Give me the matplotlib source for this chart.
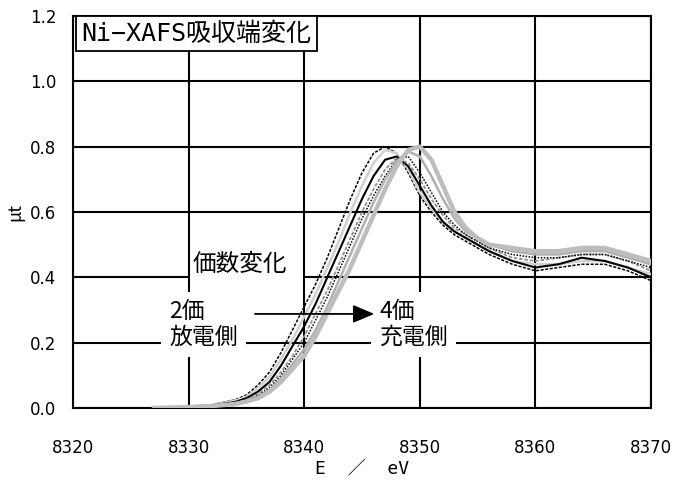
import matplotlib
matplotlib.use('Agg')
import matplotlib.pyplot as plt

plt.rcParams['font.family'] = ['Noto Sans CJK JP', 'DejaVu Sans']

energy = [8327, 8330, 8332, 8334, 8335, 8336, 8337, 8338, 8339, 8340, 8341,
          8342, 8343, 8344, 8345, 8346, 8347, 8348, 8349, 8350, 8351, 8352,
          8353, 8354, 8355, 8356, 8358, 8360, 8362, 8364, 8366, 8368, 8370]

# spectra, from the discharged (Ni2+) side to the charged (Ni4+) side
mu_1 = [0.0, 0.005, 0.01, 0.025, 0.04, 0.07, 0.11, 0.17, 0.24, 0.31, 0.38,
        0.46, 0.55, 0.64, 0.72, 0.78, 0.80, 0.78, 0.72, 0.65, 0.60, 0.56,
        0.53, 0.51, 0.49, 0.47, 0.44, 0.42, 0.43, 0.44, 0.44, 0.42, 0.39]
mu_2 = [0.0, 0.004, 0.009, 0.022, 0.035, 0.06, 0.095, 0.15, 0.21, 0.28, 0.35,
        0.43, 0.51, 0.60, 0.68, 0.75, 0.79, 0.78, 0.73, 0.66, 0.61, 0.57,
        0.54, 0.52, 0.50, 0.48, 0.45, 0.44, 0.44, 0.45, 0.45, 0.43, 0.41]
mu_3 = [0.0, 0.004, 0.008, 0.018, 0.03, 0.05, 0.08, 0.13, 0.19, 0.25, 0.32,
        0.40, 0.48, 0.56, 0.64, 0.71, 0.76, 0.77, 0.74, 0.68, 0.62, 0.57,
        0.54, 0.52, 0.50, 0.48, 0.45, 0.43, 0.44, 0.46, 0.45, 0.43, 0.40]
mu_4 = [0.0, 0.003, 0.007, 0.015, 0.025, 0.042, 0.07, 0.11, 0.16, 0.22, 0.29,
        0.36, 0.44, 0.52, 0.60, 0.67, 0.73, 0.765, 0.75, 0.70, 0.64, 0.59,
        0.55, 0.53, 0.51, 0.49, 0.46, 0.45, 0.46, 0.47, 0.47, 0.45, 0.42]
mu_5 = [0.0, 0.003, 0.007, 0.014, 0.022, 0.038, 0.062, 0.10, 0.15, 0.20, 0.27,
        0.34, 0.42, 0.50, 0.58, 0.65, 0.71, 0.76, 0.77, 0.72, 0.66, 0.60,
        0.56, 0.53, 0.51, 0.49, 0.47, 0.46, 0.46, 0.47, 0.47, 0.45, 0.43]
mu_6 = [0.0, 0.003, 0.006, 0.013, 0.02, 0.034, 0.056, 0.09, 0.135, 0.18, 0.24,
        0.31, 0.39, 0.47, 0.55, 0.63, 0.70, 0.755, 0.785, 0.77, 0.71, 0.64,
        0.58, 0.54, 0.52, 0.50, 0.48, 0.47, 0.47, 0.48, 0.48, 0.46, 0.44]
mu_7 = [0.0, 0.003, 0.006, 0.012, 0.02, 0.03, 0.05, 0.08, 0.12, 0.16, 0.22,
        0.29, 0.36, 0.43, 0.51, 0.59, 0.67, 0.74, 0.79, 0.80, 0.76, 0.68,
        0.60, 0.55, 0.52, 0.50, 0.49, 0.48, 0.48, 0.49, 0.49, 0.47, 0.45]

spectra = [mu_1, mu_2, mu_3, mu_4, mu_5, mu_6, mu_7]
styles = [
    dict(color='black', lw=1.1, ls=(0, (2, 1))),
    dict(color='#d0d0d0', lw=1.8, ls='-'),
    dict(color='black', lw=1.5, ls='-'),
    dict(color='#909090', lw=1.3, ls=(0, (2, 1))),
    dict(color='black', lw=1.1, ls=(0, (1, 1))),
    dict(color='#b0b0b0', lw=1.8, ls='-'),
    dict(color='#bdbdbd', lw=3.2, ls='-'),
]

mono = ['DejaVu Sans Mono', 'Noto Sans CJK JP']

fig = plt.figure(figsize=(6.86, 4.84), dpi=100)
ax = fig.add_axes([0.1064, 0.157, 0.8426, 0.81])

for mu, st in zip(spectra, styles):
    ax.plot(energy, mu, zorder=3, **st)

ax.set_xlim(8320, 8370)
ax.set_ylim(0, 1.2)
ax.set_xticks([8320, 8330, 8340, 8350, 8360, 8370])
ax.set_yticks([0.0, 0.2, 0.4, 0.6, 0.8, 1.0, 1.2])
ax.set_yticklabels(['0.0', '0.2', '0.4', '0.6', '0.8', '1.0', '1.2'])
ax.grid(True, color='black', lw=1.5)
ax.set_axisbelow(True)
for s in ax.spines.values():
    s.set_color('black')
    s.set_linewidth(1.5)
ax.tick_params(length=0, labelsize=12)
ax.tick_params(axis='x', pad=22)
ax.tick_params(axis='y', pad=12)
for lab in ax.get_xticklabels() + ax.get_yticklabels():
    lab.set_family('DejaVu Sans')

ax.set_xlabel('E  ／  eV', fontsize=13, labelpad=2, family=mono)
ax.set_ylabel('μt', fontsize=13, labelpad=4)

ax.text(8320.75, 1.183, 'Ni−XAFS吸収端変化', fontsize=18, va='top', ha='left',
        family=mono,
        bbox=dict(boxstyle='square,pad=0.22', fc='white', ec='black', lw=1.3),
        zorder=5)

# the label cell hides the 0.4 gridline between 8330 and 8340
ax.hlines(0.4, 8330.12, 8339.88, color='white', lw=3, zorder=1)
ax.text(8334.4, 0.44, '価数変化', fontsize=17, ha='center', va='center',
        zorder=4)

box = dict(boxstyle='square,pad=0.35', fc='white', ec='none')
ax.text(8328.3, 0.255, '2価\n放電側', fontsize=16.5, ha='left', va='center',
        linespacing=1.15, bbox=box, zorder=4)
ax.text(8346.5, 0.255, '4価\n充電側', fontsize=16.5, ha='left', va='center',
        linespacing=1.15, bbox=box, zorder=4)
ax.annotate('', xy=(8346.3, 0.288), xytext=(8335.5, 0.288),
            arrowprops=dict(arrowstyle='-|>,head_length=1.3,head_width=0.55',
                            color='black', lw=1.3),
            zorder=4)

fig.savefig('out.png', dpi=100)
